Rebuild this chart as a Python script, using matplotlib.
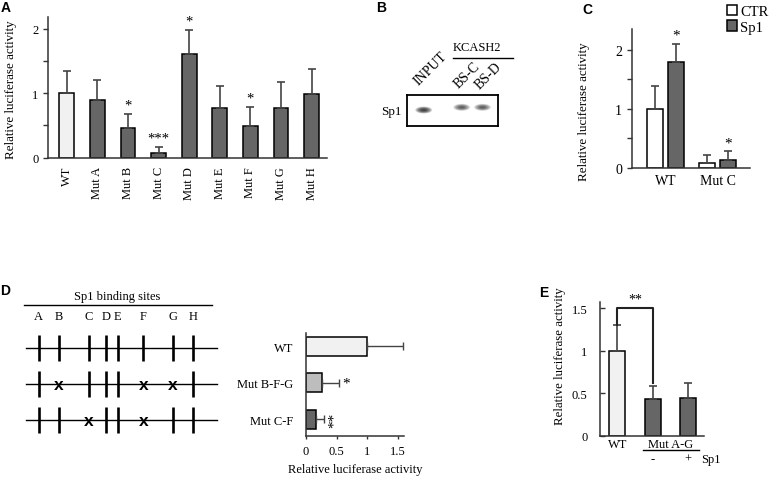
import matplotlib
matplotlib.use("Agg")
import matplotlib.pyplot as plt
from matplotlib.patches import Ellipse
from matplotlib.lines import Line2D

# ---------------- data ----------------
a_labels = ["WT", "Mut A", "Mut B", "Mut C", "Mut D", "Mut E", "Mut F", "Mut G", "Mut H"]
a_means = [1.01, 0.90, 0.46, 0.08, 1.61, 0.77, 0.49, 0.77, 0.98]
a_errs = [0.34, 0.30, 0.22, 0.09, 0.37, 0.34, 0.30, 0.41, 0.40]
a_stars = ["", "", "*", "***", "*", "", "*", "", ""]

b_lanes = ["INPUT", "BS-C", "BS-D"]
b_band_intensity = [1.0, 0.75, 0.75]

c_groups = ["WT", "Mut C"]
c_ctr_means = [0.99, 0.09]
c_ctr_errs = [0.40, 0.13]
c_sp1_means = [1.79, 0.14]
c_sp1_errs = [0.31, 0.15]
c_stars = ["*", "*"]

d_sites = ["A", "B", "C", "D", "E", "F", "G", "H"]
d_site_pos = [38.5, 58.7, 88.5, 105.8, 117.8, 143.3, 172.5, 193.0]
d_constructs = ["WT", "Mut B-F-G", "Mut C-F"]
d_mutated = [[], ["B", "F", "G"], ["C", "F"]]
d_means = [1.0, 0.27, 0.17]
d_errs = [0.58, 0.265, 0.12]
d_stars = ["", "*", "**"]

e_labels = ["WT", "Mut A-G -", "Mut A-G +"]
e_means = [1.0, 0.43, 0.45]
e_errs = [0.30, 0.16, 0.17]

# ---------------- style ----------------
W, H = 770, 485
fig = plt.figure(figsize=(W / 100, H / 100), dpi=100)
SERIF = "Liberation Serif"
SANS = "Liberation Sans"
plt.rcParams["font.family"] = SERIF
LIGHT = "#f1f1f1"
DARK = "#666666"
MID = "#bdbdbd"
SPINE = "#333333"
ERRC = "#444444"


def ax_px(l, t, r, b):
    return fig.add_axes([l / W, 1 - b / H, (r - l) / W, (b - t) / H])


def style_axes(ax, fs):
    for s in ["top", "right"]:
        ax.spines[s].set_visible(False)
    for s in ["left", "bottom"]:
        ax.spines[s].set_linewidth(1.1)
        ax.spines[s].set_color(SPINE)
    ax.tick_params(labelsize=fs, width=1.0, color=SPINE, length=3.5)


def panel_letter(x, y, s):
    fig.text(x / W, 1 - y / H, s, fontfamily=SANS, fontweight="bold",
             fontsize=10, ha="left", va="center")


# ---------------- Panel A ----------------
axA = ax_px(48, 18, 327, 158.7)
style_axes(axA, 9)
xa = list(range(len(a_labels)))
colors_a = [LIGHT] + [DARK] * (len(a_labels) - 1)
axA.bar(xa, a_means, width=0.48, color=colors_a, edgecolor="black", linewidth=1.1, zorder=2)
axA.errorbar(xa, a_means, yerr=[[0] * len(a_means), a_errs], fmt="none",
             ecolor=ERRC, elinewidth=1.2, capsize=2.6, capthick=1.2, zorder=3)
for x, m, e, s in zip(xa, a_means, a_errs, a_stars):
    if s:
        axA.text(x, m + e + 0.03, s, ha="center", va="bottom", fontsize=10.5)
axA.set_xlim(-0.61, 8.5)
axA.set_ylim(0, 2.18)
axA.set_yticks([0, 0.5, 1, 1.5, 2])
axA.set_yticklabels(["0", "", "1", "", "2"])
axA.set_xticks(xa)
axA.set_xticklabels(a_labels, rotation=90)
axA.tick_params(axis="x", length=0, pad=6)
axA.set_ylabel("Relative luciferase activity", fontsize=9.4)
axA.yaxis.set_label_coords(-0.111, 0.49)
panel_letter(1, 8, "A")

# ---------------- Panel B (blot) ----------------
axB = ax_px(406.7, 95.7, 498.3, 127.3)
axB.set_xlim(406.7, 498.3)
axB.set_ylim(127.3, 95.7)
axB.set_xticks([])
axB.set_yticks([])
for s in axB.spines.values():
    s.set_linewidth(1.3)
    s.set_color("black")
lane_x = [423.7, 461.7, 482.5]
lane_y = [111.0, 108.3, 108.3]
for lx, ly, inten in zip(lane_x, lane_y, b_band_intensity):
    for k in range(8):
        f = 1 - k * 0.1
        axB.add_patch(Ellipse((lx, ly), 17 * f, 7.0 * f, color="black",
                              alpha=0.14 * inten, lw=0))
fig.text(391.7 / W, 1 - 111.7 / H, "Sp1", fontsize=9.4, ha="center", va="center")
for lab, x0, y0 in zip(b_lanes, [419.0, 458.5, 479.5], [86.0, 89.0, 90.0]):
    fig.text(x0 / W, 1 - y0 / H, lab, fontsize=10, rotation=45,
             rotation_mode="anchor", ha="left", va="baseline")
fig.text(477 / W, 1 - 48.3 / H, "KCASH2", fontsize=9, ha="center", va="center")
fig.add_artist(Line2D([453 / W, 513 / W], [1 - 58.7 / H, 1 - 58.7 / H], color="black", lw=1.0))
panel_letter(376, 8, "B")

# ---------------- Panel C ----------------
axC = ax_px(631.7, 30, 750, 169)
style_axes(axC, 10)
xc = list(range(len(c_groups)))
off = 0.198
wC = 0.306
axC.bar([x - off for x in xc], c_ctr_means, width=wC, color="white", edgecolor="black",
        linewidth=1.1, zorder=2, label="CTR")
axC.bar([x + off for x in xc], c_sp1_means, width=wC, color=DARK, edgecolor="black",
        linewidth=1.1, zorder=2, label="Sp1")
axC.errorbar([x - off for x in xc], c_ctr_means, yerr=[[0, 0], c_ctr_errs], fmt="none",
             ecolor=ERRC, elinewidth=1.2, capsize=2.6, capthick=1.2, zorder=3)
axC.errorbar([x + off for x in xc], c_sp1_means, yerr=[[0, 0], c_sp1_errs], fmt="none",
             ecolor=ERRC, elinewidth=1.2, capsize=2.6, capthick=1.2, zorder=3)
for x, m, e, s in zip(xc, c_sp1_means, c_sp1_errs, c_stars):
    axC.text(x + off, m + e + 0.03, s, ha="center", va="bottom", fontsize=11)
axC.set_xlim(-0.647, 1.619)
axC.set_ylim(0, 2.35)
axC.set_yticks([0, 0.5, 1, 1.5, 2])
axC.set_yticklabels(["0", "", "1", "", "2"])
axC.set_xticks(xc)
axC.set_xticklabels(c_groups)
axC.tick_params(axis="x", length=0, pad=4)
axC.set_ylabel("Relative luciferase activity", fontsize=9.4)
axC.yaxis.set_label_coords(-0.352, 0.41)
axC.legend(loc="upper left", bbox_to_anchor=(727 / W, 1 - 6 / H), bbox_transform=fig.transFigure,
           frameon=False, fontsize=10.5, handlelength=0.7, handleheight=0.7,
           handletextpad=0.2, labelspacing=0.15, borderaxespad=0, borderpad=0)
panel_letter(582, 10, "C")

# ---------------- Panel D (diagram) ----------------
axDd = ax_px(0, 280, 230, 445)
axDd.set_xlim(0, 230)
axDd.set_ylim(445, 280)
axDd.axis("off")
axDd.text(116.7, 297.3, "Sp1 binding sites", ha="center", va="center", fontsize=9)
axDd.plot([24, 212], [306, 306], color="black", lw=1.0)
for s, p in zip(d_sites, d_site_pos):
    axDd.text(p, 316.5, s, ha="center", va="center", fontsize=9)
row_y = [348.7, 385.0, 421.0]
for ry, muts in zip(row_y, d_mutated):
    axDd.plot([26, 217.3], [ry, ry], color="black", lw=1.0)
    for s, p in zip(d_sites, d_site_pos):
        if s in muts:
            axDd.text(p, ry, "x", ha="center", va="center", fontsize=12.5,
                      fontfamily=SANS, fontweight="bold")
        else:
            axDd.plot([p, p], [ry - 13, ry + 13], color="black", lw=1.9,
                      solid_capstyle="butt")
panel_letter(0, 291.5, "D")

# ---------------- Panel D (bars) ----------------
axD = ax_px(306, 334.3, 404, 437.3)
style_axes(axD, 9)
yd = list(range(len(d_constructs)))
axD.barh(yd, d_means, height=0.52, color=[LIGHT, MID, DARK], edgecolor="black",
         linewidth=1.1, zorder=2)
axD.errorbar(d_means, yd, xerr=[[0] * 3, d_errs], fmt="none", ecolor=ERRC,
             elinewidth=1.0, capsize=2.6, capthick=1.0, zorder=3)
axD.set_ylim(2.46, -0.355)
axD.set_xlim(0, 1.604)
axD.set_yticks(yd)
axD.set_yticklabels(d_constructs)
axD.tick_params(axis="y", length=0, pad=9)
axD.set_xticks([0, 0.5, 1, 1.5])
axD.set_xticklabels(["0", "0.5", "1", "1.5"])
axD.tick_params(axis="x", length=2.5, pad=4)
axD.set_xlabel("Relative luciferase activity", fontsize=9)
axD.text(d_means[1] + d_errs[1] + 0.12, 1, d_stars[1], ha="center", va="center", fontsize=11)
axD.text(d_means[2] + d_errs[2] + 0.18, 2, d_stars[2], ha="center", va="center",
         fontsize=11, rotation=90)

# ---------------- Panel E ----------------
axE = ax_px(600, 302.7, 704, 436.7)
style_axes(axE, 9)
xe = list(range(len(e_means)))
axE.bar(xe, e_means, width=0.455, color=[LIGHT, DARK, DARK], edgecolor="black",
        linewidth=1.1, zorder=2)
axE.errorbar(xe, e_means, yerr=[[0] * 3, e_errs], fmt="none", ecolor=ERRC,
             elinewidth=1.2, capsize=2.6, capthick=1.2, zorder=3)
axE.set_xlim(-0.49, 2.46)
axE.set_ylim(0, 1.58)
axE.set_yticks([0, 0.5, 1, 1.5])
axE.set_yticklabels(["0", "0.5", "1", "1.5"])
axE.tick_params(axis="y", direction="in", length=3.5, pad=9)
axE.set_xticks([0])
axE.set_xticklabels(["WT"])
axE.tick_params(axis="x", length=0, pad=2)
axE.set_ylabel("Relative luciferase activity", fontsize=9.3)
axE.yaxis.set_label_coords(-0.325, 0.60)
top = 1.504
axE.plot([0, 0, 1, 1], [e_means[0] + e_errs[0], top, top, e_means[1] + e_errs[1] + 0.03],
         color="#222222", lw=1.5, clip_on=False, zorder=4)
axE.text(0.5, top + 0.03, "**", ha="center", va="bottom", fontsize=10, clip_on=False)
tr = axE.get_xaxis_transform()
axE.text(1.5, -0.088, "Mut A-G", transform=tr, ha="center", va="baseline", fontsize=9)
axE.plot([0.73, 2.32], [-0.104, -0.104], transform=tr, color="black", lw=1.0, clip_on=False)
axE.text(1, -0.174, "-", transform=tr, ha="center", va="center", fontsize=9)
axE.text(2, -0.174, "+", transform=tr, ha="center", va="center", fontsize=9)
axE.text(2.38, -0.174, "Sp1", transform=tr, ha="left", va="center", fontsize=9)
panel_letter(539, 293.5, "E")

fig.savefig("out.png", dpi=100)
